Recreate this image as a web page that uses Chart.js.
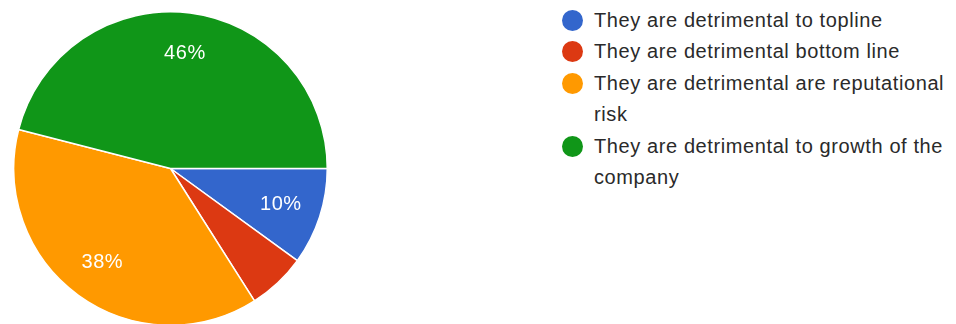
<!DOCTYPE html>
<html>
<head>
<meta charset="utf-8">
<script src="https://cdn.jsdelivr.net/npm/chart.js@4.4.1/dist/chart.umd.min.js"></script>
<style>
    html, body { margin: 0; padding: 0; background: #fff; overflow: hidden; }
    body { width: 956px; height: 324px; position: relative; font-family: "Liberation Sans", Arial, sans-serif; }
    #pieBox { position: absolute; left: 13px; top: 11px; width: 315px; height: 315px; }
    #legend { position: absolute; left: 562px; top: 5px; width: 394px; margin: 0; padding: 0; list-style: none; }
    #legend li { display: flex; align-items: flex-start; font-size: 20px; line-height: 31.4px; color: #2a2a2a; letter-spacing: 0.6px; }
    #legend .dot { flex: 0 0 21px; height: 21px; border-radius: 50%; margin-top: 5px; margin-right: 11px; }
    #legend .txt { width: 362px; }
</style>
</head>
<body>
<div id="pieBox"><canvas id="pieChart"></canvas></div>
<ul id="legend"></ul>
<script>
// 데이터
const categories = [
    'They are detrimental to topline',
    'They are detrimental bottom line',
    'They are detrimental are reputational risk',
    'They are detrimental to growth of the company'
];
const shares = [10, 6, 38, 46];
const sliceColors = ['#3366cc', '#dc3912', '#ff9900', '#109618'];

// 조각 안에 퍼센트 라벨 그리기 (작은 조각은 생략)
const sliceLabelPlugin = {
    id: 'sliceLabels',
    afterDatasetsDraw(chart) {
        const ctx = chart.ctx;
        const meta = chart.getDatasetMeta(0);
        const total = shares.reduce((a, b) => a + b, 0);
        ctx.save();
        ctx.fillStyle = '#ffffff';
        ctx.font = '20px "Liberation Sans", Arial, sans-serif';
        ctx.letterSpacing = '0.6px';
        ctx.textAlign = 'center';
        ctx.textBaseline = 'middle';
        meta.data.forEach((arc, i) => {
            const pct = Math.round(shares[i] / total * 100);
            if (pct < 8) return;
            const p = arc.getProps(['x', 'y', 'startAngle', 'endAngle', 'outerRadius'], true);
            const mid = (p.startAngle + p.endAngle) / 2;
            const r = p.outerRadius * 0.74;
            ctx.fillText(pct + '%', p.x + Math.cos(mid) * r, p.y + Math.sin(mid) * r);
        });
        ctx.restore();
    }
};

const pieChart = new Chart(document.getElementById('pieChart').getContext('2d'), {
    type: 'pie',
    data: {
        labels: categories,
        datasets: [{
            data: shares,
            backgroundColor: sliceColors,
            borderColor: '#ffffff',
            borderWidth: 1.5
        }]
    },
    options: {
        responsive: true,
        maintainAspectRatio: false,
        animation: false,
        rotation: 90,   // 3시 방향부터 시작
        layout: { padding: 0 },
        plugins: {
            legend: { display: false },
            tooltip: { enabled: false }
        }
    },
    plugins: [sliceLabelPlugin]
});

// 범례 (HTML)
const legendEl = document.getElementById('legend');
categories.forEach((name, i) => {
    const li = document.createElement('li');
    li.innerHTML = `<span class="dot" style="background:${sliceColors[i]}"></span><span class="txt">${name}</span>`;
    legendEl.appendChild(li);
});
</script>
</body>
</html>
